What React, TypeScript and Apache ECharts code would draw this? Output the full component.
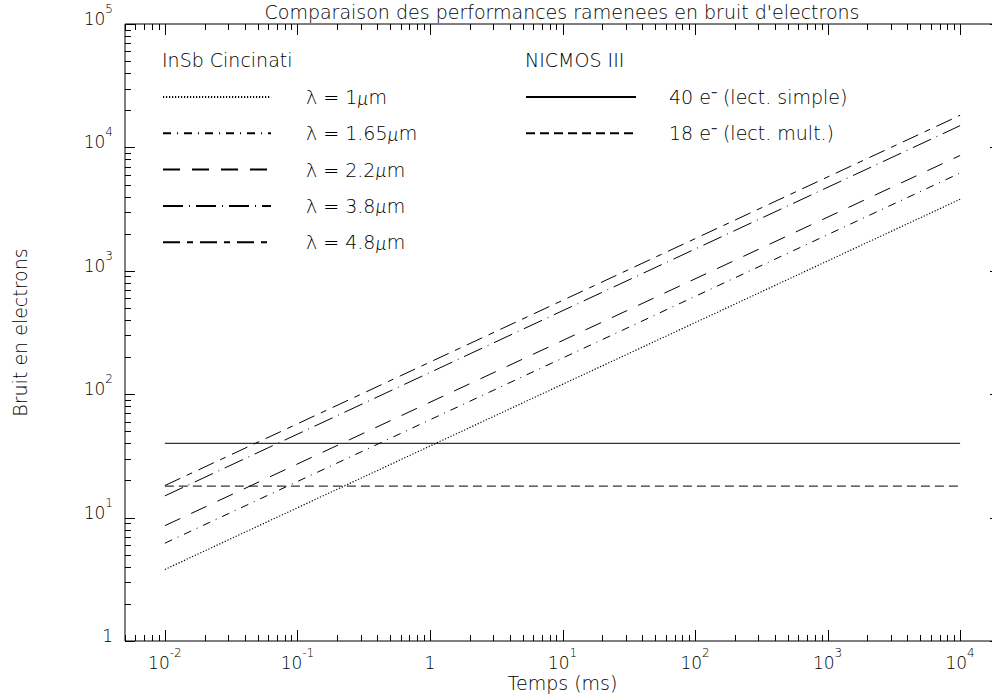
import React, { useEffect, useRef } from 'react';
import * as echarts from 'echarts';

const FONT = 'DejaVu Sans';
const WEIGHT = 200;
const INK = '#000';

// Exposure time (ms) at both ends of every curve
const timesMs = [0.01, 10000];

// InSb (Cincinnati) noise in electrons, one array per wavelength
const insb1um = [3.8, 3800];
const insb165um = [6.2, 6200];
const insb22um = [8.6, 8600];
const insb38um = [15, 15000];
const insb48um = [18.2, 18200];

// NICMOS III read noise in electrons
const nicmosSingle = [40, 40];
const nicmosMulti = [18, 18];

const insbNames = ['λ = 1µm', 'λ = 1.65µm', 'λ = 2.2µm', 'λ = 3.8µm', 'λ = 4.8µm'];
const nicmosNames = ['40 e⁻ (lect. simple)', '18 e⁻ (lect. mult.)'];

// Axis ranges and the decades that carry tick marks
const X_MIN = 0.005;
const X_MAX = 20000;
const Y_MIN = 1;
const Y_MAX = 100000;
const xDecades = [-3, -2, -1, 0, 1, 2, 3, 4];
const yDecades = [0, 1, 2, 3, 4, 5];
const mantissas = [1, 2, 3, 4, 5, 6, 7, 8, 9];

const buildTicks = (decades: number[], lo: number, hi: number) => {
  const out: number[] = [];
  decades.forEach((k) =>
    mantissas.forEach((m) => {
      const v = Number((m * Math.pow(10, k)).toPrecision(6));
      if (v >= lo * 0.999999 && v <= hi * 1.000001) out.push(v);
    })
  );
  return out;
};
const xTickValues = buildTicks(xDecades, X_MIN, X_MAX);
const yTickValues = buildTicks(yDecades, Y_MIN, Y_MAX);

// Dash patterns of the curves
const DOTTED = [1.2, 1.8];
const DASH_DOT = [8, 6, 1, 6];
const LONG_DASH = [17, 12];
const LONG_DASH_DOT = [20, 6, 1, 6];
const LONG_SHORT = [17, 7, 6, 7];
const DASHED = [9, 5];

// Tick label fonts: mantissa "10" and its raised exponent
const MAIN_SIZE = 17;
const SUP_SIZE = 12;
const SUP_RAISE = 10;

let measureCtx: CanvasRenderingContext2D | null = null;
const textWidth = (text: string, size: number) => {
  if (!measureCtx) measureCtx = document.createElement('canvas').getContext('2d');
  if (!measureCtx) return text.length * size * 0.6;
  measureCtx.font = `${WEIGHT} ${size}px "${FONT}"`;
  return measureCtx.measureText(text).width;
};

const txt = (text: string, x: number, y: number, size: number, align: string) => ({
  type: 'text',
  x,
  y,
  style: {
    text,
    x: 0,
    y: 0,
    fontSize: size,
    fontFamily: FONT,
    fontWeight: WEIGHT,
    fill: INK,
    align,
    verticalAlign: 'middle',
  },
});

// Decade label; (ax, cy) is the anchor, cy the vertical centre of the mantissa
const decadeLabel = (k: number, ax: number, cy: number, anchor: 'center' | 'right') => {
  if (k === 0) return [txt('1', ax, cy, MAIN_SIZE, anchor)];
  const main = '10';
  const sup = String(k);
  const wm = textWidth(main, MAIN_SIZE);
  const ws = textWidth(sup, SUP_SIZE);
  const left = anchor === 'center' ? ax - (wm + ws) / 2 : ax - wm - ws;
  return [
    txt(main, left, cy, MAIN_SIZE, 'left'),
    txt(sup, left + wm, cy - SUP_RAISE, SUP_SIZE, 'left'),
  ];
};

const crisp = (v: number) => Math.round(v) + 0.5;

const tickLine = (x1: number, y1: number, x2: number, y2: number) => ({
  type: 'line',
  shape: { x1, y1, x2, y2 },
  style: { stroke: INK, lineWidth: 1 },
});

const decadeOf = (v: number) => {
  const l = Math.log10(v);
  const k = Math.round(l);
  return { k, major: Math.abs(l - k) < 1e-6 };
};

const renderXTicks = (_params: any, api: any) => {
  const v = api.value(0);
  const b = api.coord([v, Y_MIN]);
  const t = api.coord([v, Y_MAX]);
  const { k, major } = decadeOf(v);
  const len = major ? 11 : 6;
  const x = crisp(b[0]);
  let children: any[] = [
    tickLine(x, b[1], x, b[1] - len),
    tickLine(x, t[1], x, t[1] + len),
  ];
  if (major && k >= -2) {
    children = children.concat(decadeLabel(k, b[0], b[1] + 22, 'center'));
  }
  return { type: 'group', children };
};

const renderYTicks = (_params: any, api: any) => {
  const v = api.value(1);
  const l = api.coord([X_MIN, v]);
  const r = api.coord([X_MAX, v]);
  const { k, major } = decadeOf(v);
  const len = major ? 10 : 6;
  const y = crisp(l[1]);
  let children: any[] = [
    tickLine(l[0], y, l[0] + len, y),
    tickLine(r[0], y, r[0] - len, y),
  ];
  if (major) {
    children = children.concat(decadeLabel(k, l[0] - 12, l[1] - 5, 'right'));
  }
  return { type: 'group', children };
};

const curve = (name: string, values: number[], dash: number[], width = 1) => ({
  name,
  type: 'line',
  symbol: 'none',
  silent: true,
  data: timesMs.map((t, i) => [t, values[i]]),
  lineStyle: { color: INK, width, type: dash },
  itemStyle: { color: INK },
});

const baseText = { fontSize: 19, fontFamily: FONT, fontWeight: WEIGHT, color: INK };

const legendText = {
  ...baseText,
  lineHeight: 20,
  rich: {
    i: { fontSize: 19, fontFamily: 'Lato', fontWeight: 300, color: INK, fontStyle: 'italic', lineHeight: 20 },
  },
};

const legendBase = {
  orient: 'vertical',
  padding: 0,
  itemHeight: 20,
  itemGap: 16.3,
  selectedMode: false,
  itemStyle: { opacity: 0 },
  formatter: (name: string) => name.replace('µ', '{i|µ}'),
};

export default function App() {
  const ref = useRef<HTMLDivElement>(null);

  useEffect(() => {
    document.body.style.margin = '0';
    if (!ref.current) return;
    const chart = echarts.init(ref.current, undefined, { renderer: 'svg' });
    chart.setOption({
      animation: false,
      backgroundColor: '#fff',
      textStyle: { fontFamily: FONT, color: INK },
      title: {
        text: 'Comparaison des performances ramenees en bruit d\'electrons',
        left: 562,
        top: 2,
        padding: 0,
        textAlign: 'center',
        textStyle: { ...baseText },
      },
      grid: {
        left: 125,
        top: 24,
        width: 875,
        height: 617,
        outerBoundsMode: 'none',
        show: true,
        borderColor: INK,
        borderWidth: 1,
      },
      xAxis: {
        type: 'log',
        logBase: 10,
        min: X_MIN,
        max: X_MAX,
        axisLine: { show: false },
        axisTick: { show: false },
        axisLabel: { show: false },
        splitLine: { show: false },
        name: 'Temps (ms)',
        nameLocation: 'middle',
        nameGap: 32,
        nameTextStyle: { ...baseText },
      },
      yAxis: {
        type: 'log',
        logBase: 10,
        min: Y_MIN,
        max: Y_MAX,
        axisLine: { show: false },
        axisTick: { show: false },
        axisLabel: { show: false },
        splitLine: { show: false },
        name: 'Bruit en electrons',
        nameLocation: 'middle',
        nameGap: 96,
        nameTextStyle: { ...baseText },
      },
      legend: [
        { ...legendBase, data: insbNames, left: 162, top: 87, itemWidth: 108, textStyle: { ...legendText, padding: [0, 0, 0, 30] } },
        { ...legendBase, data: nicmosNames, left: 525, top: 87, itemWidth: 110, textStyle: { ...legendText, padding: [0, 0, 0, 28] } },
      ],
      graphic: [
        { type: 'text', left: 162, top: 50, style: { text: 'InSb Cincinati', fontSize: 19, fontFamily: FONT, fontWeight: WEIGHT, fill: INK } },
        { type: 'text', left: 525, top: 50, style: { text: 'NICMOS III', fontSize: 19, fontFamily: FONT, fontWeight: WEIGHT, fill: INK } },
      ],
      series: [
        curve(insbNames[0], insb1um, DOTTED, 1.2),
        curve(insbNames[1], insb165um, DASH_DOT),
        curve(insbNames[2], insb22um, LONG_DASH),
        curve(insbNames[3], insb38um, LONG_DASH_DOT),
        curve(insbNames[4], insb48um, LONG_SHORT),
        curve(nicmosNames[0], nicmosSingle, []),
        curve(nicmosNames[1], nicmosMulti, DASHED),
        {
          type: 'custom',
          name: 'x-ticks',
          silent: true,
          clip: false,
          renderItem: renderXTicks,
          data: xTickValues.map((v) => [v, Y_MIN]),
        },
        {
          type: 'custom',
          name: 'y-ticks',
          silent: true,
          clip: false,
          renderItem: renderYTicks,
          data: yTickValues.map((v) => [X_MIN, v]),
        },
      ],
    });
    return () => chart.dispose();
  }, []);

  return <div ref={ref} style={{ width: 992, height: 700 }} />;
}
